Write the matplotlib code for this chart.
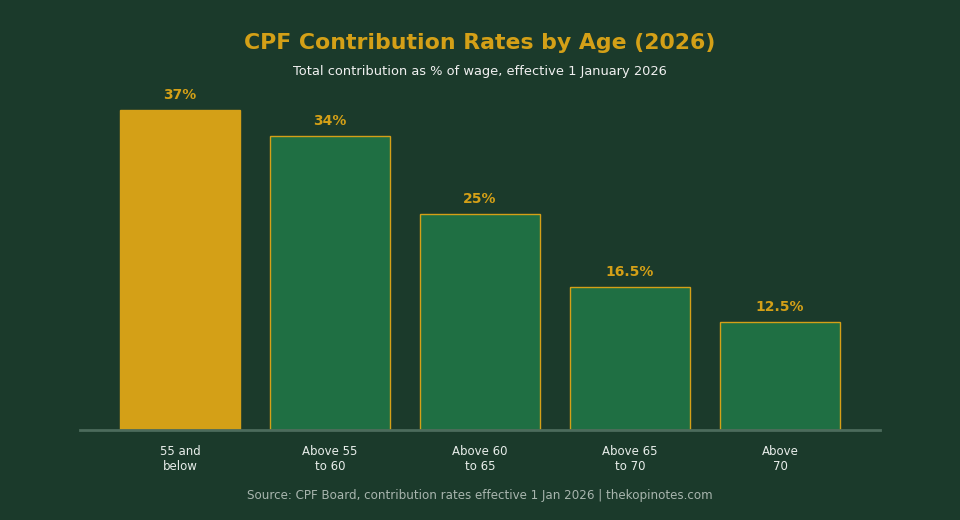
import matplotlib
matplotlib.use("Agg")
import matplotlib.pyplot as plt

categories = ["55 and\nbelow", "Above 55\nto 60", "Above 60\nto 65", "Above 65\nto 70", "Above\n70"]
rates = [37, 34, 25, 16.5, 12.5]
value_labels = ["37%", "34%", "25%", "16.5%", "12.5%"]

BG = "#1B3A2B"
GOLD = "#D4A017"
GREEN = "#1F6F43"

fig = plt.figure(figsize=(9.6, 5.2), dpi=100, facecolor=BG)
ax = fig.add_axes([80/960, 90/520, 800/960, 363/520], facecolor=BG)

x = list(range(len(categories)))
colors = [GOLD] + [GREEN] * (len(categories) - 1)
ax.bar(x, rates, width=0.8, color=colors, edgecolor=GOLD, linewidth=1.0, zorder=2)

for xi, v, lab in zip(x, rates, value_labels):
    ax.annotate(lab, (xi, v), xytext=(0, 6), textcoords="offset points",
                ha="center", va="bottom", color=GOLD, fontsize=10, fontweight="bold")

ax.set_xlim(-0.667, 4.667)
ax.set_ylim(0, 42)
ax.set_xticks(x)
ax.set_xticklabels(categories, color="#E8EDEA", fontsize=8.5)
ax.tick_params(axis="x", length=0, pad=11)
ax.set_yticks([])
for s in ["top", "right", "left"]:
    ax.spines[s].set_visible(False)
ax.spines["bottom"].set_color("#4C6B5C")
ax.spines["bottom"].set_linewidth(2)

fig.text(0.5, 1 - 43/520, "CPF Contribution Rates by Age (2026)", ha="center", va="center",
         color=GOLD, fontsize=15.8, fontweight="bold")
fig.text(0.5, 1 - 71/520, "Total contribution as % of wage, effective 1 January 2026", ha="center",
         va="center", color="#F0F0F0", fontsize=9.35)
fig.text(0.5, 1 - 496/520, "Source: CPF Board, contribution rates effective 1 Jan 2026 | thekopinotes.com",
         ha="center", va="center", color="#A8B5AE", fontsize=8.6)

fig.savefig("out.png", dpi=100, facecolor=BG)
